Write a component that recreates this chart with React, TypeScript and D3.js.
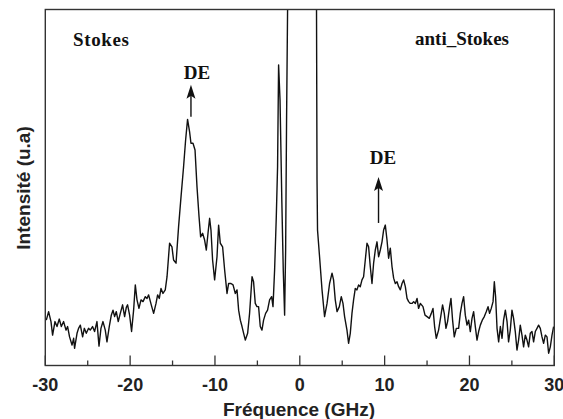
import React from 'react';
import * as d3 from 'd3';

// spectre Brillouin : branche Stokes, raie centrale, branche anti-Stokes
// [fréquence GHz, intensité u.a.]
const stokesBranch: [number, number][] = [
  [-29.88, 12.6], [-29.61, 15.0], [-29.33, 12.2], [-29.14, 8.4], [-28.86, 12.2], [-28.62, 10.8],
  [-28.35, 12.9], [-28.11, 10.8], [-27.84, 12.2], [-27.56, 9.8], [-27.37, 10.8], [-27.14, 7.9],
  [-26.85, 5.6], [-26.66, 7.5], [-26.55, 4.7], [-26.26, 8.9], [-26.08, 10.3], [-25.87, 11.2],
  [-25.6, 7.9], [-25.4, 10.3], [-25.17, 8.9], [-24.9, 10.3], [-24.7, 9.8], [-24.43, 10.8],
  [-24.19, 9.4], [-23.91, 12.2], [-23.67, 5.3], [-23.44, 10.3], [-23.2, 12.2], [-22.93, 9.8],
  [-22.73, 6.5], [-22.46, 10.8], [-22.22, 14.0], [-22.02, 15.4], [-21.83, 13.6], [-21.63, 15.0],
  [-21.4, 12.2], [-21.16, 14.5], [-20.89, 16.9], [-20.65, 13.6], [-20.45, 16.2], [-20.3, 16.9],
  [-20.06, 14.0], [-19.83, 9.4], [-19.59, 15.4], [-19.39, 22.5], [-19.19, 18.3], [-18.96, 15.9],
  [-18.72, 18.3], [-18.48, 17.8], [-18.21, 19.2], [-18.01, 18.7], [-17.82, 19.7], [-17.51, 16.9],
  [-17.23, 14.5], [-16.95, 17.3], [-16.76, 19.7], [-16.56, 18.7], [-16.36, 21.5], [-16.13, 20.1],
  [-15.86, 21.1], [-15.65, 24.8], [-15.35, 34.2], [-15.07, 33.2], [-14.88, 29.5], [-14.59, 28.6],
  [-14.29, 38.8], [-14.0, 47.3], [-13.7, 55.7], [-13.46, 63.2], [-13.23, 69.0], [-12.99, 65.5],
  [-12.83, 62.3], [-12.59, 62.3], [-12.35, 60.4], [-12.12, 50.1], [-11.88, 41.7], [-11.69, 36.0],
  [-11.46, 37.0], [-11.22, 35.1], [-11.02, 32.3], [-10.82, 37.0], [-10.63, 41.2], [-10.47, 37.9],
  [-10.28, 29.5], [-10.04, 23.9], [-9.76, 30.4], [-9.57, 39.3], [-9.37, 34.2], [-9.1, 33.2],
  [-8.86, 26.7], [-8.58, 20.1], [-8.39, 22.9], [-8.11, 22.9], [-7.87, 22.5], [-7.6, 20.1],
  [-7.4, 21.1], [-7.21, 15.4], [-7.01, 12.6], [-6.81, 10.8], [-6.62, 8.9], [-6.42, 7.0],
  [-6.15, 8.9], [-5.92, 14.5], [-5.63, 24.8], [-5.45, 23.4], [-5.25, 17.3], [-5.05, 16.4],
  [-4.86, 16.4], [-4.66, 10.8], [-4.46, 9.8], [-4.27, 12.6], [-4.03, 14.5], [-3.8, 15.4],
  [-3.56, 18.3], [-3.32, 19.2], [-3.16, 16.4], [-2.97, 26.7], [-2.77, 41.7], [-2.62, 55.7],
  [-2.5, 84.3], [-2.33, 74.4], [-2.12, 46.3], [-1.95, 26.7], [-1.79, 14.0],
];

const rayleighLine: [number, number][] = [
  [-1.67, 32.3], [-1.56, 68.8], [-1.44, 100], [-1.2, 140], [1.7, 140], [1.97, 100],
  [2.03, 52.0], [2.09, 37.9],
];

const antiStokesBranch: [number, number][] = [
  [2.33, 30.4], [2.62, 21.1], [2.92, 13.6], [3.21, 17.3], [3.51, 22.9], [3.8, 25.8],
  [3.98, 23.9], [4.18, 18.3], [4.39, 15.0], [4.66, 16.4], [4.89, 19.2], [5.09, 17.3],
  [5.28, 13.6], [5.56, 9.8], [5.75, 6.1], [5.95, 8.9], [6.15, 14.5], [6.34, 18.3],
  [6.54, 21.5], [6.74, 21.1], [6.93, 22.5], [7.13, 22.0], [7.33, 23.9], [7.52, 24.8],
  [7.72, 29.5], [7.92, 34.2], [8.11, 33.2], [8.31, 27.6], [8.51, 22.9], [8.7, 28.6],
  [8.9, 32.3], [9.1, 34.6], [9.29, 30.4], [9.49, 32.3], [9.69, 34.6], [9.88, 37.9],
  [10.08, 39.3], [10.28, 35.1], [10.47, 30.0], [10.67, 32.8], [10.87, 27.6], [11.06, 24.4],
  [11.26, 22.9], [11.46, 23.4], [11.65, 22.0], [11.85, 21.1], [12.05, 22.9], [12.24, 23.9],
  [12.44, 22.0], [12.64, 18.7], [12.83, 17.8], [13.03, 17.3], [13.23, 17.3], [13.42, 17.8],
  [13.62, 17.3], [13.82, 18.7], [14.0, 15.9], [14.21, 17.3], [14.52, 16.4], [14.76, 14.0],
  [15.0, 13.6], [15.27, 13.1], [15.5, 14.5], [15.7, 15.9], [15.89, 10.8], [16.09, 7.5],
  [16.36, 9.8], [16.64, 14.0], [16.83, 16.9], [17.03, 14.5], [17.23, 10.3], [17.42, 12.2],
  [17.66, 16.4], [17.82, 18.7], [18.01, 12.6], [18.21, 7.9], [18.45, 10.3], [18.72, 10.3],
  [18.92, 14.5], [19.12, 17.3], [19.31, 19.2], [19.51, 14.0], [19.71, 11.2], [19.9, 12.6],
  [20.1, 9.4], [20.3, 13.1], [20.49, 15.0], [20.69, 10.8], [20.89, 7.0], [21.08, 9.4],
  [21.28, 11.2], [21.51, 12.6], [21.75, 13.6], [21.99, 15.0], [22.19, 16.4], [22.37, 14.5],
  [22.57, 15.9], [22.78, 17.8], [22.93, 23.4], [23.08, 19.2], [23.25, 10.3], [23.44, 6.5],
  [23.64, 10.8], [23.84, 7.5], [24.02, 12.6], [24.23, 15.4], [24.43, 12.2], [24.61, 6.5],
  [24.81, 9.8], [25.01, 15.4], [25.2, 13.1], [25.4, 9.4], [25.6, 4.2], [25.79, 7.0],
  [25.99, 11.2], [26.19, 8.4], [26.38, 5.1], [26.58, 8.4], [26.78, 7.0], [26.97, 5.1],
  [27.17, 8.9], [27.37, 9.4], [27.56, 6.5], [27.76, 9.4], [27.96, 10.3], [28.15, 11.2],
  [28.35, 10.3], [28.55, 7.9], [28.74, 6.1], [28.94, 8.4], [29.14, 7.9], [29.33, 3.3],
  [29.53, 5.1], [29.73, 8.4], [29.92, 10.8],
];

const majorTicks = [-30, -20, -10, 0, 10, 20, 30];
const minorTicks = [-25, -15, -5, 5, 15, 25];

// flèches "DE" : fréquence, intensité bas, intensité pointe
const deArrows = [
  { f: -12.83, from: 69.7, to: 78.7 },
  { f: 9.28, from: 39.9, to: 52.8 },
];

export default function App() {
  const width = 563, height = 419;
  const left = 45.3, right = 554.3, top = 9.5, bottom = 365.5;

  const x = d3.scaleLinear().domain([-30, 30]).range([left, right]);
  const y = d3.scaleLinear().domain([0, 100]).range([365, 9]);

  const all = [...stokesBranch, ...rayleighLine, ...antiStokesBranch];
  const line = d3.line<[number, number]>().x(d => x(d[0])).y(d => y(d[1]));

  const serif = '"Liberation Serif", "Times New Roman", serif';
  const sans = '"Liberation Sans", Arial, sans-serif';

  return (
    <svg width={width} height={height} style={{ position: 'absolute', left: 0, top: 0, background: '#fff' }}>
      <defs>
        <clipPath id="plot">
          <rect x={left} y={top} width={right - left} height={bottom - top} />
        </clipPath>
      </defs>

      <path d={line(all) ?? ''} fill="none" stroke="#111" strokeWidth={1.4}
        strokeLinejoin="round" clipPath="url(#plot)" />

      {/* cadre */}
      <rect x={left} y={top} width={right - left} height={bottom - top}
        fill="none" stroke="#333" strokeWidth={1.4} />

      {majorTicks.map(t => (
        <g key={'M' + t}>
          <line x1={x(t)} x2={x(t)} y1={bottom} y2={bottom - 10} stroke="#333" strokeWidth={1.3} />
          <text x={x(t)} y={391} textAnchor="middle" fontFamily={sans} fontWeight="bold"
            fontSize={18} fill="#222">{t}</text>
        </g>
      ))}
      {minorTicks.map(t => (
        <line key={'m' + t} x1={x(t)} x2={x(t)} y1={bottom} y2={bottom - 5} stroke="#333" strokeWidth={1.3} />
      ))}

      <text x={299} y={416} textAnchor="middle" fontFamily={sans} fontWeight="bold" fontSize={19} fill="#222">
        Fréquence (GHz)
      </text>
      <text transform="translate(30,188) rotate(-90)" textAnchor="middle" fontFamily={sans}
        fontWeight="bold" fontSize={19} fill="#222">
        Intensité (u.a)
      </text>

      <text x={73} y={46} fontFamily={serif} fontWeight="bold" fontSize={19} fill="#111"
        textLength={56} lengthAdjust="spacing">Stokes</text>
      <text x={415} y={45} fontFamily={serif} fontWeight="bold" fontSize={19} fill="#111">anti_Stokes</text>

      {deArrows.map((a, i) => {
        const ax = x(a.f), y0 = y(a.from), y1 = y(a.to);
        return (
          <g key={'de' + i}>
            <line x1={ax} x2={ax} y1={y0} y2={y1 + 10} stroke="#111" strokeWidth={1.4} />
            <path d={`M${ax},${y1} L${ax + 4.5},${y1 + 14} L${ax},${y1 + 11} L${ax - 4.5},${y1 + 14} Z`} fill="#111" />
          </g>
        );
      })}
      <text x={197} y={79} textAnchor="middle" fontFamily={serif} fontWeight="bold" fontSize={19} fill="#111">DE</text>
      <text x={383} y={164} textAnchor="middle" fontFamily={serif} fontWeight="bold" fontSize={19} fill="#111">DE</text>
    </svg>
  );
}
